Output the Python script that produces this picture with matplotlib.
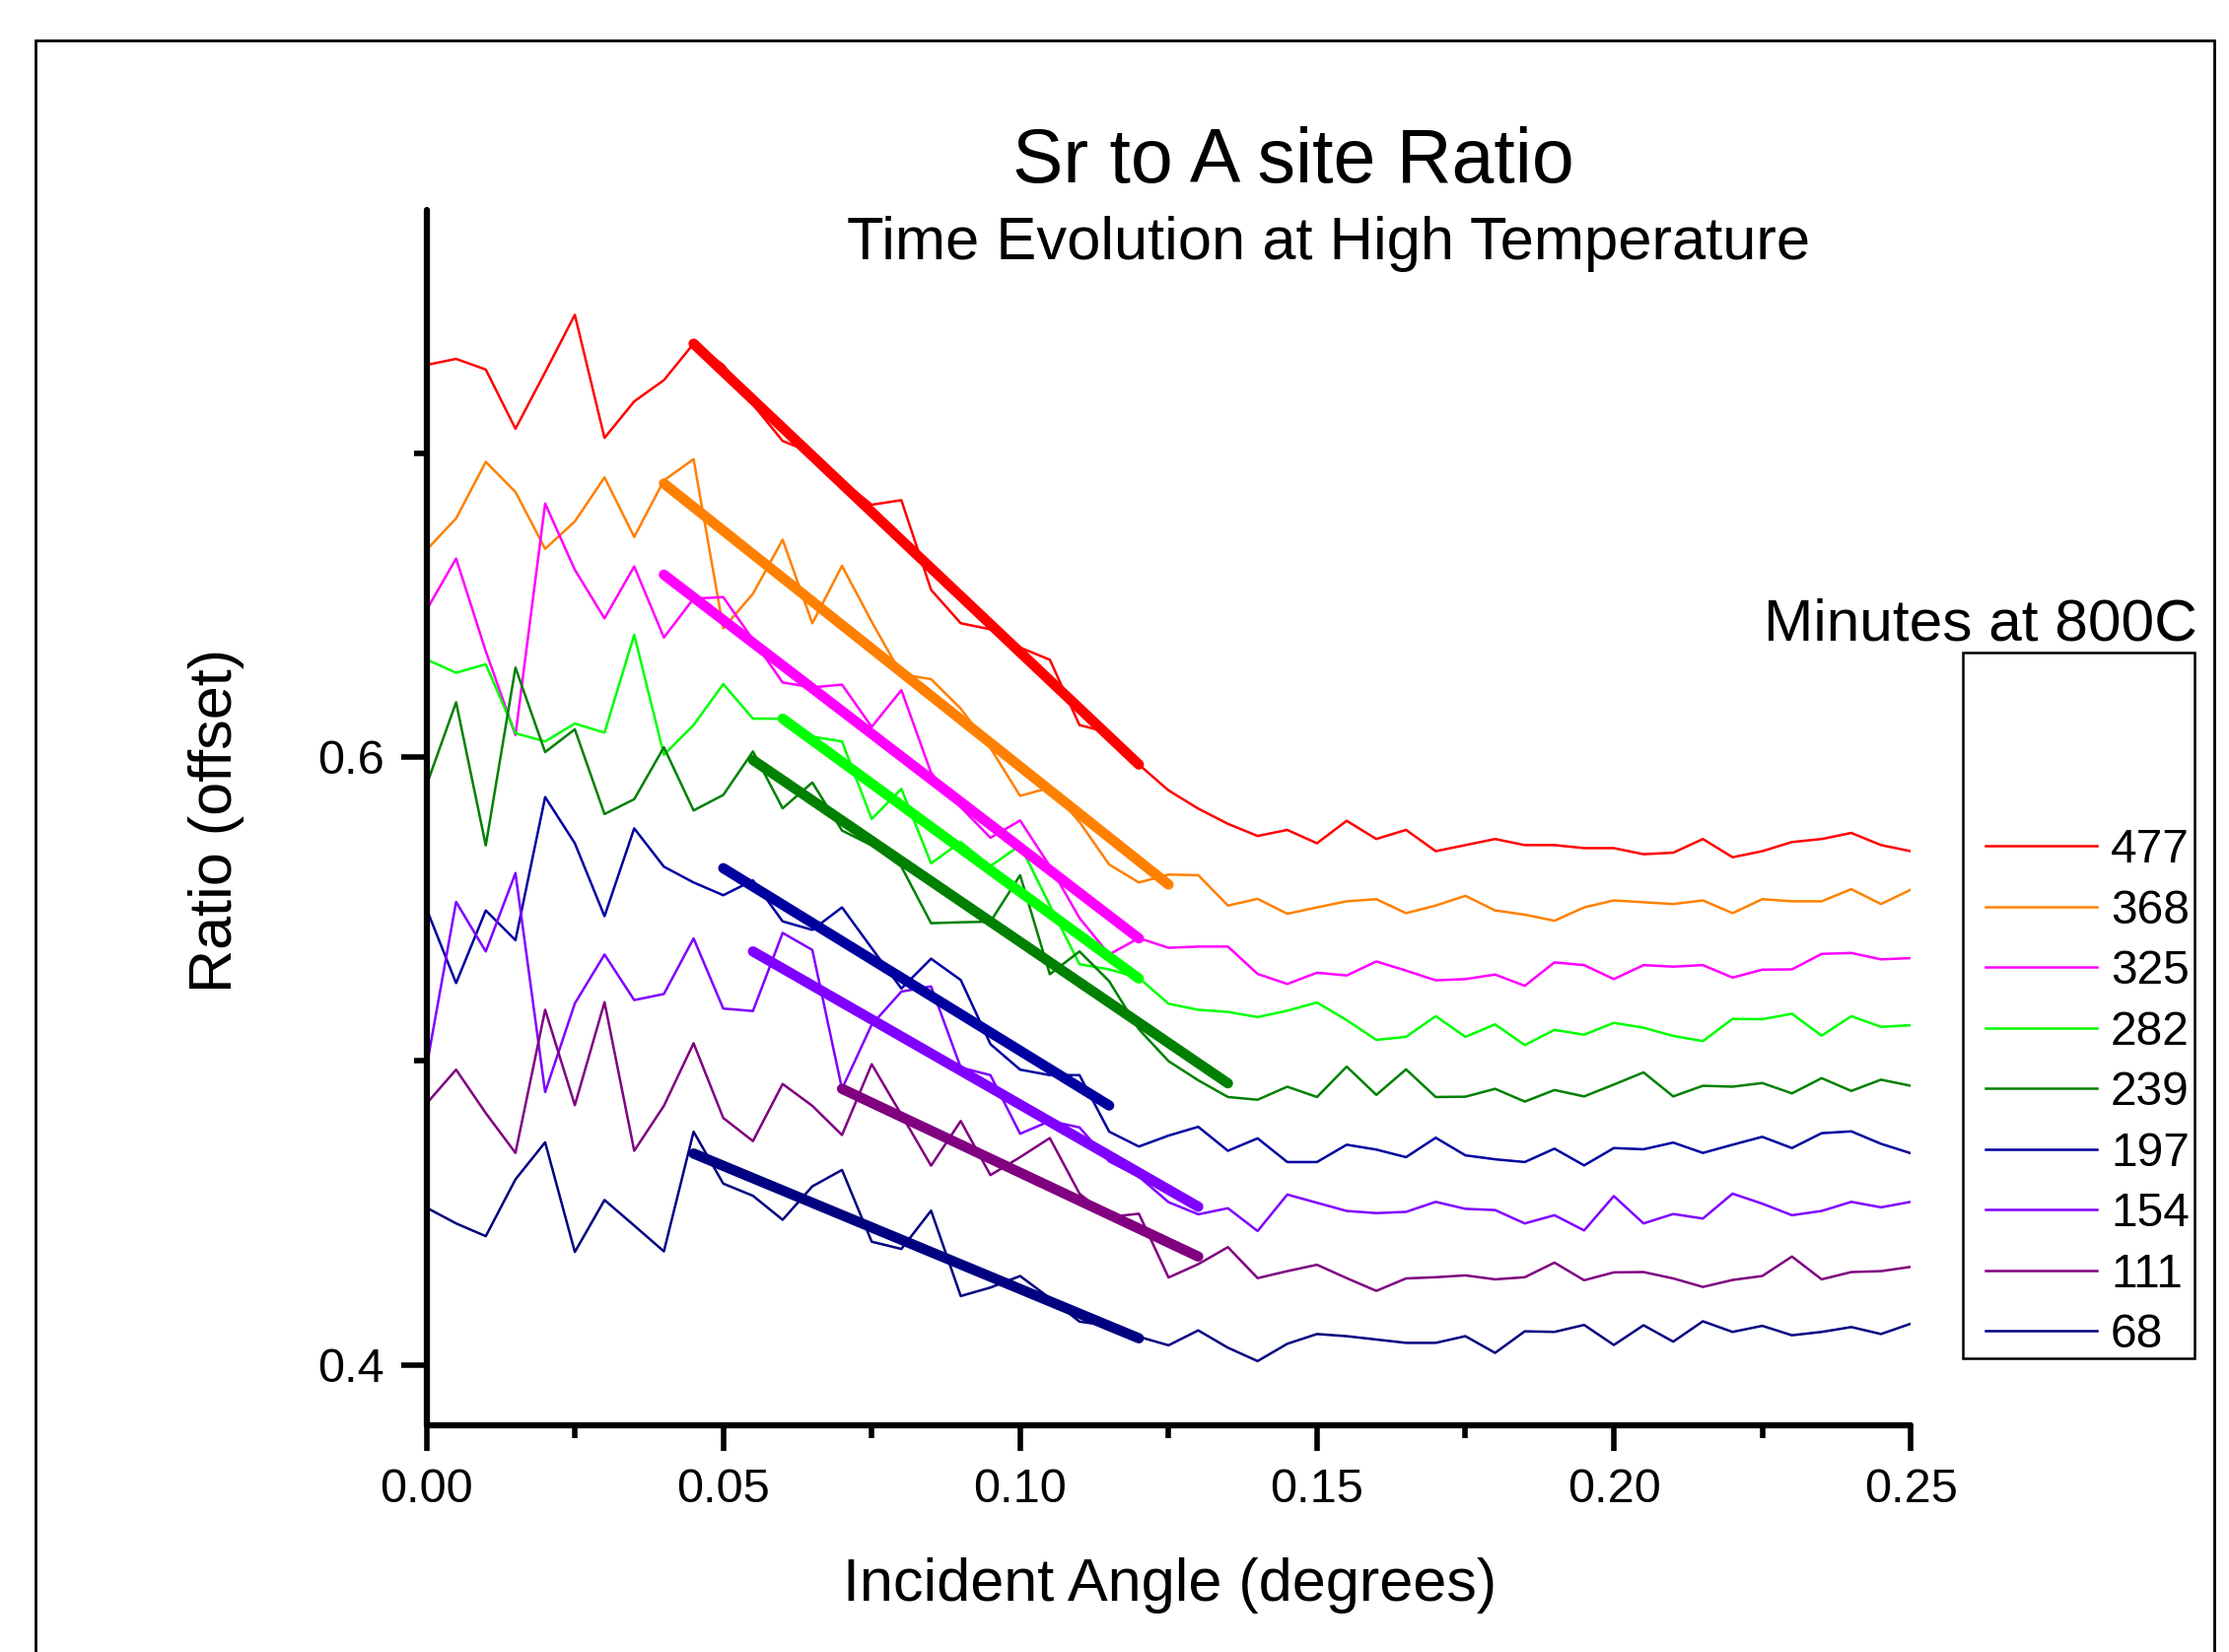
import numpy as np
import matplotlib.pyplot as plt
from matplotlib.lines import Line2D
from matplotlib.patches import Rectangle
from matplotlib.ticker import MultipleLocator, FixedLocator, FormatStrFormatter

plt.rcParams['font.family'] = ['Liberation Sans', 'DejaVu Sans']

# incident angle grid (degrees)
angle = np.linspace(0.0, 0.25, 51)

minutes = ['477', '368', '325', '282', '239', '197', '154', '111', '68']
colors = ['#FF0000', '#FF8000', '#FF00FF', '#00FF00', '#008000',
          '#0000A0', '#8000FF', '#800080', '#000080']

r477 = [0.729, 0.731, 0.7275, 0.708, 0.7266, 0.7455, 0.705, 0.717, 0.724, 0.736,
        0.729, 0.716, 0.704, 0.700, 0.691, 0.683, 0.6845, 0.655, 0.644, 0.642,
        0.636, 0.632, 0.6105, 0.608, 0.5975, 0.589, 0.583, 0.578, 0.574, 0.576,
        0.5716, 0.579, 0.573, 0.576, 0.569, 0.571, 0.573, 0.571, 0.571, 0.570,
        0.570, 0.568, 0.5685, 0.573, 0.567, 0.569, 0.572, 0.573, 0.575, 0.571, 0.569]
r368 = [0.6681, 0.6785, 0.6971, 0.6872, 0.6685, 0.6775, 0.692, 0.6724, 0.691, 0.698,
        0.6423, 0.6537, 0.6715, 0.644, 0.6629, 0.6445, 0.6272, 0.6256, 0.6159, 0.6029,
        0.5872, 0.5899, 0.5786, 0.5646, 0.5587, 0.5613, 0.5611, 0.5511, 0.5533, 0.5484,
        0.5505, 0.5525, 0.5532, 0.5486, 0.5511, 0.5543, 0.5495, 0.5481, 0.5461, 0.5505,
        0.5528, 0.5522, 0.5516, 0.5528, 0.5486, 0.5532, 0.5525, 0.5525, 0.5565, 0.5516, 0.5563]
r325 = [0.6483, 0.6653, 0.6348, 0.6072, 0.6834, 0.6616, 0.6456, 0.6627, 0.6393, 0.6521,
        0.6526, 0.6386, 0.6245, 0.6229, 0.6238, 0.6099, 0.622, 0.5948, 0.5835, 0.5734,
        0.5791, 0.5641, 0.5470, 0.5350, 0.5404, 0.5372, 0.5376, 0.5376, 0.5286, 0.5253,
        0.5290, 0.5281, 0.5327, 0.5297, 0.5265, 0.5269, 0.5284, 0.5247, 0.5324, 0.5315,
        0.5269, 0.5315, 0.5310, 0.5315, 0.5274, 0.5300, 0.5301, 0.5352, 0.5355, 0.5334, 0.5338]
r282 = [0.6321, 0.6277, 0.6305, 0.6078, 0.6051, 0.6110, 0.6080, 0.6402, 0.6007, 0.6105,
        0.6240, 0.6126, 0.6126, 0.6067, 0.6051, 0.5796, 0.5895, 0.5650, 0.5720, 0.5641,
        0.5709, 0.5512, 0.5318, 0.5301, 0.5273, 0.5188, 0.5168, 0.5161, 0.5144, 0.5165,
        0.5192, 0.5134, 0.5069, 0.5079, 0.5147, 0.5079, 0.5120, 0.5052, 0.5102, 0.5086,
        0.5125, 0.5109, 0.5082, 0.5065, 0.5138, 0.5137, 0.5155, 0.5083, 0.5147, 0.5112, 0.5117]
r239 = [0.5906, 0.618, 0.5709, 0.6294, 0.6016, 0.6091, 0.5812, 0.5861, 0.6032, 0.5824,
        0.5875, 0.6018, 0.5831, 0.5916, 0.5758, 0.5709, 0.5639, 0.5453, 0.5456, 0.5458,
        0.5611, 0.5285, 0.5360, 0.5262, 0.5104, 0.4999, 0.4936, 0.4881, 0.4872, 0.4915,
        0.4881, 0.4981, 0.4888, 0.4972, 0.4881, 0.4882, 0.4908, 0.4866, 0.4904, 0.4883,
        0.4922, 0.4962, 0.4883, 0.4918, 0.4915, 0.4927, 0.4893, 0.4943, 0.4901, 0.4938, 0.4918]
r197 = [0.5501, 0.5256, 0.5495, 0.5397, 0.5868, 0.5716, 0.5476, 0.5765, 0.5639, 0.5587,
        0.5545, 0.5594, 0.5459, 0.5431, 0.5505, 0.5371, 0.5238, 0.5336, 0.5266, 0.5055,
        0.4971, 0.4953, 0.4953, 0.4767, 0.4718, 0.4754, 0.4783, 0.4704, 0.4745, 0.4667,
        0.4667, 0.4724, 0.4708, 0.4683, 0.4747, 0.4689, 0.4676, 0.4667, 0.4711, 0.4656,
        0.4713, 0.4709, 0.4731, 0.4697, 0.4724, 0.4750, 0.4713, 0.4762, 0.4768, 0.4727, 0.4696]
r154 = [0.4978, 0.5523, 0.5360, 0.5618, 0.4897, 0.5189, 0.5350, 0.5200, 0.5220, 0.5403,
        0.5172, 0.5164, 0.5421, 0.5365, 0.4908, 0.5119, 0.5228, 0.5245, 0.4978, 0.4953,
        0.4760, 0.4802, 0.4781, 0.4669, 0.4619, 0.4535, 0.4495, 0.4515, 0.4440, 0.4560,
        0.4533, 0.4506, 0.4499, 0.4503, 0.4536, 0.4513, 0.4509, 0.4465, 0.4492, 0.4442,
        0.4555, 0.4465, 0.4496, 0.4481, 0.4563, 0.4530, 0.4492, 0.4506, 0.4536, 0.4518, 0.4536]
r111 = [0.4859, 0.4971, 0.4828, 0.4697, 0.5168, 0.4854, 0.5193, 0.4704, 0.4852, 0.5058,
        0.4812, 0.4736, 0.4924, 0.4852, 0.4756, 0.4989, 0.4823, 0.4655, 0.4802, 0.4624,
        0.4683, 0.4746, 0.4563, 0.4486, 0.4497, 0.4287, 0.4331, 0.4387, 0.4285, 0.4308,
        0.4329, 0.4285, 0.4243, 0.4284, 0.4288, 0.4294, 0.4281, 0.4288, 0.4336, 0.4278,
        0.4304, 0.4305, 0.4284, 0.4256, 0.4279, 0.4292, 0.4356, 0.4281, 0.4305, 0.4308, 0.4322]
r68 = [0.4517, 0.4465, 0.4423, 0.4610, 0.4732, 0.4371, 0.4542, 0.4458, 0.4373, 0.4767,
       0.4596, 0.4556, 0.4477, 0.4587, 0.4641, 0.4405, 0.4381, 0.4507, 0.4226, 0.4254,
       0.4292, 0.4219, 0.4142, 0.4128, 0.4092, 0.4064, 0.4113, 0.4056, 0.4012, 0.4069,
       0.4101, 0.4094, 0.4083, 0.4072, 0.4072, 0.4094, 0.4039, 0.4110, 0.4108, 0.4131,
       0.4065, 0.4130, 0.4076, 0.4143, 0.4108, 0.4128, 0.4097, 0.4108, 0.4124, 0.4101, 0.4135]
ratios = [r477, r368, r325, r282, r239, r197, r154, r111, r68]

# linear fits over the falling part: (x start, x end), (y start, y end)
fit_x = [(0.045, 0.120), (0.040, 0.125), (0.040, 0.120), (0.060, 0.120), (0.055, 0.135),
         (0.050, 0.115), (0.055, 0.130), (0.070, 0.130), (0.045, 0.120)]
fit_y = [(0.736, 0.5975), (0.690, 0.558), (0.660, 0.5403), (0.6126, 0.5271), (0.599, 0.4926),
         (0.5634, 0.4853), (0.536, 0.452), (0.4908, 0.4356), (0.4695, 0.4087)]

fig = plt.figure(figsize=(22.61, 16.76), dpi=100)
ax = fig.add_axes([0.1913, 0.1371, 0.6659, 0.7358])

for vals, col in zip(ratios, colors):
    ax.plot(angle, vals, color=col, lw=1.8)
for fx, fy, col in zip(fit_x, fit_y, colors):
    ax.plot(fx, fy, color=col, lw=7.5, solid_capstyle='round')

ax.set_xlim(0, 0.25)
ax.set_ylim(0.38, 0.78)
ax.spines['top'].set_visible(False)
ax.spines['right'].set_visible(False)
for s in ['left', 'bottom']:
    ax.spines[s].set_linewidth(4.5)
    ax.spines[s].set_capstyle('round')

ax.xaxis.set_major_locator(MultipleLocator(0.05))
ax.xaxis.set_minor_locator(MultipleLocator(0.025))
ax.xaxis.set_major_formatter(FormatStrFormatter('%.2f'))
ax.yaxis.set_major_locator(FixedLocator([0.4, 0.6]))
ax.yaxis.set_minor_locator(FixedLocator([0.5, 0.7]))
ax.yaxis.set_major_formatter(FormatStrFormatter('%.1f'))
ax.tick_params(which='major', direction='out', length=19, width=4, labelsize=35, pad=12)
ax.tick_params(which='minor', direction='out', length=9.5, width=4)

# titles and axis labels
fig.text(0.5803, 0.8895, 'Sr to A site Ratio', fontsize=55.5, ha='center', va='baseline')
fig.text(0.5958, 0.8430, 'Time Evolution at High Temperature', fontsize=44.3, ha='center', va='baseline')
fig.text(0.525, 0.031, 'Incident Angle (degrees)', fontsize=44, ha='center', va='baseline')
fig.text(0.097, 0.503, 'Ratio (offset)', fontsize=44, rotation=90, ha='center', va='center')

# legend
fig.text(0.9858, 0.6122, 'Minutes at 800C', fontsize=43.5, ha='right', va='baseline')
fig.add_artist(Rectangle((0.8806, 0.1778), 0.1039, 0.4272, transform=fig.transFigure,
                         fill=False, ec='black', lw=1.8))
handles = [Line2D([], [], color=c, lw=1.8) for c in colors]
fig.legend(handles, minutes, loc='upper left', bbox_to_anchor=(0.8908, 0.4988),
           frameon=False, fontsize=34.5, handlelength=2.35, handletextpad=0.3,
           labelspacing=0.345, borderpad=0, borderaxespad=0)

# page frame
fig.add_artist(Rectangle((0.0159, -0.1), 0.9773, 1.0755, transform=fig.transFigure,
                         fill=False, ec='black', lw=2))

fig.savefig('out.png', dpi=100)
